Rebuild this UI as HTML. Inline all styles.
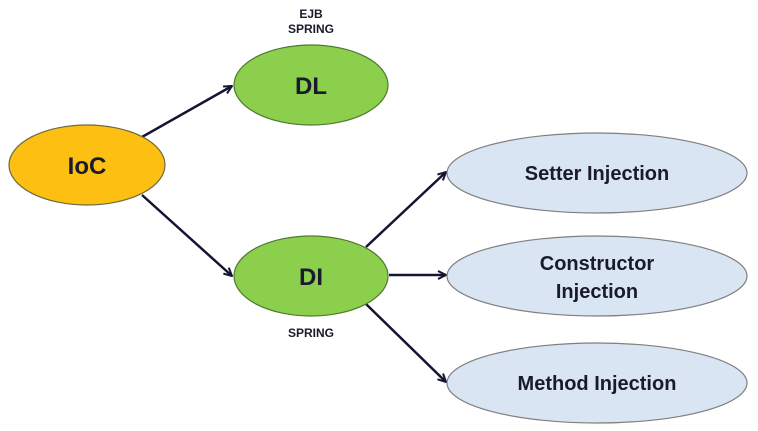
<!DOCTYPE html>
<html><head><meta charset="utf-8"><style>
html,body{margin:0;padding:0;background:#fff;}
svg{display:block;}
text{font-family:"Liberation Sans",Arial,sans-serif;font-weight:bold;fill:#1a1a2e;text-anchor:middle;}
</style></head><body>
<svg width="758" height="431" viewBox="0 0 758 431">
<defs>
<marker id="a" markerWidth="10" markerHeight="10" refX="9" refY="5" orient="auto" markerUnits="userSpaceOnUse">
<path d="M1,1 L9,5 L1,9" fill="none" stroke="#141433" stroke-width="2"/>
</marker>
</defs>
<g stroke="#141433" stroke-width="2.5" fill="none" marker-end="url(#a)">
<line x1="142" y1="137" x2="232" y2="86"/>
<line x1="142" y1="195" x2="232" y2="276"/>
<line x1="366" y1="247" x2="446" y2="172"/>
<line x1="389" y1="275" x2="446" y2="275"/>
<line x1="366" y1="304" x2="446" y2="382"/>
</g>
<g stroke="#6b6b40" stroke-width="1.2">
<ellipse cx="87" cy="165" rx="78" ry="40" fill="#fdbf11"/>
<ellipse cx="311" cy="85" rx="77" ry="40" fill="#8ccf4d" stroke="#4f7a30"/>
<ellipse cx="311" cy="276" rx="77" ry="40" fill="#8ccf4d" stroke="#4f7a30"/>
</g>
<g fill="#dae5f4" stroke="#7f7f7f" stroke-width="1.2">
<ellipse cx="597" cy="173" rx="150" ry="40"/>
<ellipse cx="597" cy="276" rx="150" ry="40"/>
<ellipse cx="597" cy="383" rx="150" ry="40"/>
</g>
<text x="87" y="174" font-size="24">IoC</text>
<text x="311" y="94" font-size="24">DL</text>
<text x="311" y="285" font-size="24">DI</text>
<text x="311" y="18" font-size="12">EJB</text>
<text x="311" y="33" font-size="12">SPRING</text>
<text x="311" y="337" font-size="12">SPRING</text>
<text x="597" y="180" font-size="20">Setter Injection</text>
<text x="597" y="270" font-size="20">Constructor</text>
<text x="597" y="298" font-size="20">Injection</text>
<text x="597" y="390" font-size="20">Method Injection</text>
</svg>
</body></html>
